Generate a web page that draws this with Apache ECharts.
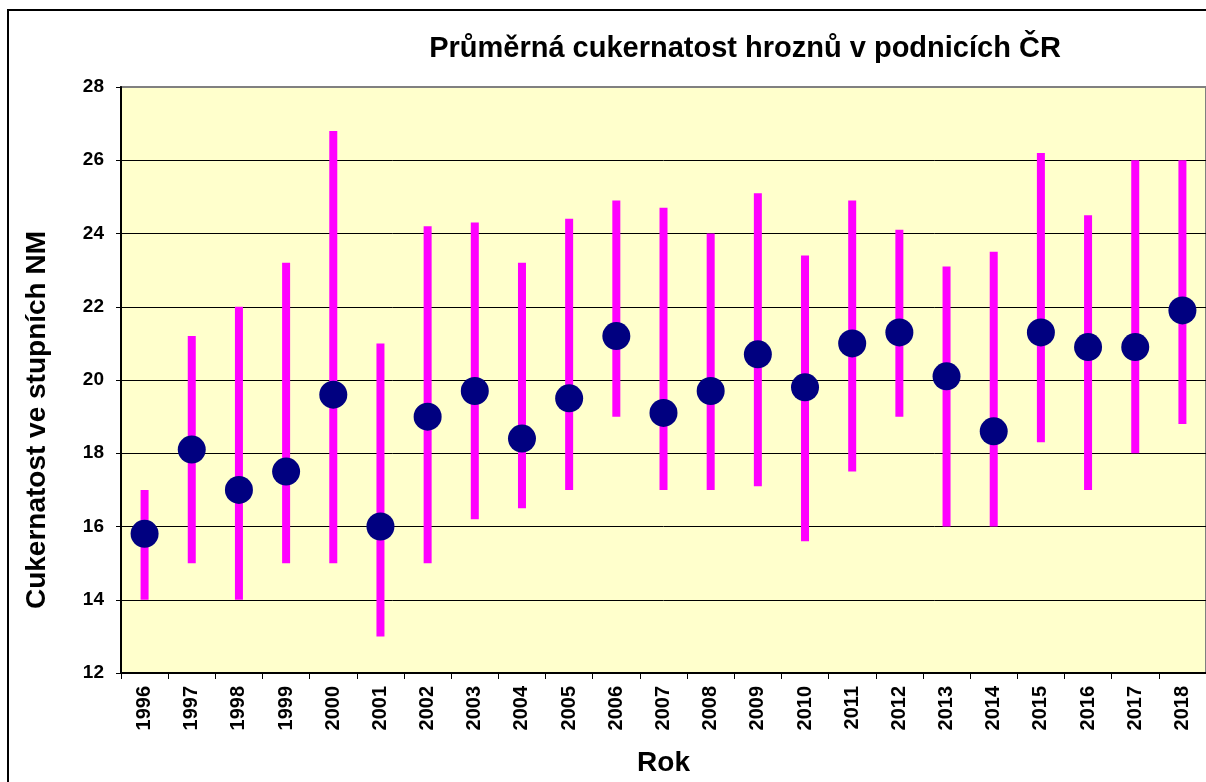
<!DOCTYPE html>
<html>
<head>
<meta charset="utf-8">
<script src="https://cdn.jsdelivr.net/npm/echarts@6/dist/echarts.min.js"></script>
<style>
  html, body { margin: 0; padding: 0; background: #fff; }
  #chart { width: 1206px; height: 782px; }
</style>
</head>
<body>
<div id="chart"></div>
<script>
// roky a hodnoty
const years = ['1996', '1997', '1998', '1999', '2000', '2001', '2002', '2003', '2004', '2005', '2006', '2007',
    '2008', '2009', '2010', '2011', '2012', '2013', '2014', '2015', '2016', '2017', '2018'];
const minVals = [14, 15, 14, 15, 15, 13, 15, 16.2, 16.5, 17, 19, 17, 17, 17.1, 15.6, 17.5, 19, 16, 16, 18.3, 17, 18, 18.8];
const maxVals = [17, 21.2, 22, 23.2, 26.8, 21, 24.2, 24.3, 23.2, 24.4, 24.9, 24.7, 24, 25.1, 23.4, 24.9, 24.1, 23.1, 23.5, 26.2, 24.5, 26, 26];
const meanVals = [15.8, 18.1, 17, 17.5, 19.6, 16, 19, 19.7, 18.4, 19.5, 21.2, 19.1, 19.7, 20.7, 19.8, 21, 21.3, 20.1, 18.6, 21.3, 20.9, 20.9, 21.9];
const yTicks = [12, 14, 16, 18, 20, 22, 24, 26, 28];

const font = 'Liberation Sans, Arial, sans-serif';

const chart = echarts.init(document.getElementById('chart'));

// rozsah min-max jako svislá čára
const rangeData = years.map((y, i) => [i, minVals[i], maxVals[i]]);

// barva mřížky - horní čára šedá
const splitColors = yTicks.map((t, i) => (i === yTicks.length - 1 ? '#808080' : '#000000'));

const option = {
    backgroundColor: '#ffffff',
    animation: false,
    title: {
        text: 'Průměrná cukernatost hroznů v podnicích ČR',
        left: 740,
        top: 29,
        textAlign: 'center',
        textStyle: { fontFamily: font, fontWeight: 'bold', fontSize: 29, color: '#000' }
    },
    graphic: [{
        type: 'rect',
        shape: { x: 8, y: 10, width: 1220, height: 800 },
        style: { fill: 'none', stroke: '#000', lineWidth: 2 },
        silent: true
    }, {
        // popis osy y - v originále není na středu osy
        type: 'text',
        x: 37,
        y: 420,
        rotation: Math.PI / 2,
        style: {
            text: 'Cukernatost ve stupních NM',
            font: 'bold 28px ' + font,
            fill: '#000',
            textAlign: 'center',
            textVerticalAlign: 'middle'
        },
        silent: true
    }],
    grid: {
        left: 121,
        top: 87,
        width: 1087,
        height: 589,
        show: true,
        backgroundColor: '#FFFFCC',
        borderColor: '#808080',
        borderWidth: 2
    },
    xAxis: {
        type: 'category',
        data: years,
        boundaryGap: true,
        name: 'Rok',
        nameLocation: 'middle',
        nameGap: 76,
        nameTextStyle: { fontFamily: font, fontWeight: 'bold', fontSize: 28, color: '#000' },
        axisLine: { lineStyle: { color: '#000', width: 2 } },
        axisTick: { show: true, length: 6, lineStyle: { color: '#000' } },
        axisLabel: {
            rotate: 90,
            margin: 13,
            interval: 0,
            fontFamily: font,
            fontWeight: 'bold',
            fontSize: 20,
            color: '#000'
        }
    },
    yAxis: {
        type: 'value',
        min: 12,
        max: 28,
        interval: 2,
        axisLine: { show: true, lineStyle: { color: '#000', width: 2 } },
        axisTick: { show: true, length: 5, lineStyle: { color: '#000' } },
        axisLabel: {
            margin: 17,
            fontFamily: font,
            fontWeight: 'bold',
            fontSize: 19,
            color: '#000'
        },
        splitLine: { show: true, lineStyle: { color: splitColors, width: 1 } }
    },
    series: [
        {
            type: 'custom',
            name: 'rozsah',
            data: rangeData,
            encode: { x: 0, y: [1, 2] },
            renderItem: function (params, api) {
                const x = api.value(0);
                const lo = api.coord([x, api.value(1)]);
                const hi = api.coord([x, api.value(2)]);
                return {
                    type: 'line',
                    shape: { x1: lo[0], y1: lo[1], x2: hi[0], y2: hi[1] },
                    style: { stroke: '#FF00FF', lineWidth: 8, lineCap: 'butt' }
                };
            },
            z: 2
        },
        {
            type: 'scatter',
            name: 'průměr',
            data: meanVals,
            symbol: 'circle',
            symbolSize: 28,
            itemStyle: { color: '#000080', opacity: 1 },
            z: 3
        }
    ]
};

chart.setOption(option);
</script>
</body>
</html>
